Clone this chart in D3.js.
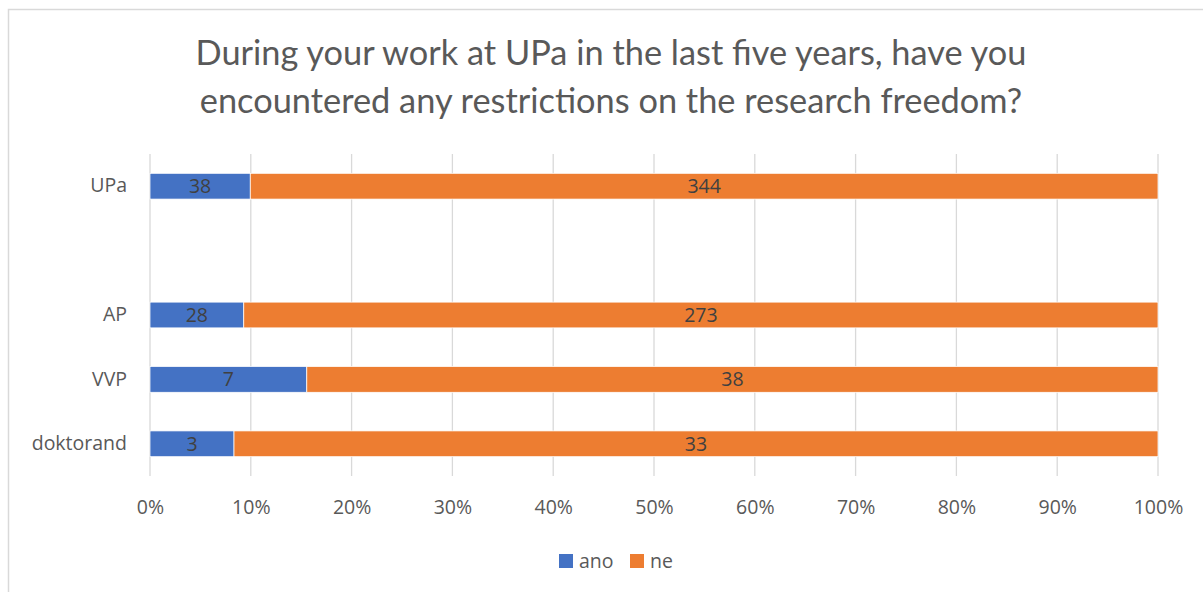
<!DOCTYPE html>
<html>
<head>
<meta charset="utf-8">
<script src="https://cdn.jsdelivr.net/npm/d3@7"></script>
<style>
  body { margin: 0; background: #fff; }
  text { font-family: "Open Sans", sans-serif; }
</style>
</head>
<body>
<div id="chart"></div>
<script>
// data
var categories = ["UPa", " ", "AP", "VVP", "doktorand"];
var ano = [38, null, 28, 7, 3];
var ne = [344, null, 273, 38, 33];
var seriesNames = ["ano", "ne"];
var seriesColors = ["#4472C4", "#ED7D31"];
var xTicks = [0, 0.1, 0.2, 0.3, 0.4, 0.5, 0.6, 0.7, 0.8, 0.9, 1];
var titleLines = ["During your work at UPa in the last five years, have you",
                  "encountered any restrictions on the research freedom?"];

var W = 1203, H = 592;
var margin = {top: 154, right: 45, bottom: 116, left: 150},
    width = W - margin.left - margin.right,
    height = H - margin.top - margin.bottom;
var fontStack = "'Open Sans', sans-serif";
var labelSize = "19.5px";

var root = d3.select("#chart").append("svg")
  .attr("width", W).attr("height", H);

// chart border
root.append("rect")
  .attr("x", 8.5).attr("y", 9.5)
  .attr("width", 1210).attr("height", 600)
  .attr("fill", "#fff").attr("stroke", "#D9D9D9").attr("stroke-width", 1.5);

// title
var title = root.append("g");
titleLines.forEach(function(t, i) {
  title.append("text")
    .attr("x", 611).attr("y", 65 + i * 48)
    .attr("text-anchor", "middle")
    .attr("fill", "#595959")
    .style("font-family", "Lato, sans-serif")
    .style("font-size", "32px")
    .text(t);
});
// fit the first line to the reference width
var w0 = title.select("text").node().getComputedTextLength();
var fs = 32 * 831 / w0;
title.selectAll("text").style("font-size", fs + "px");

var svg = root.append("g")
  .attr("transform", "translate(" + margin.left + "," + margin.top + ")");

var x = d3.scaleLinear().domain([0, 1]).range([0, width]);
var y = d3.scaleBand().domain(categories).range([0, height]).paddingInner(0.6).paddingOuter(0.3);

// gridlines
svg.append("g")
  .selectAll("line")
  .data(xTicks)
  .enter().append("line")
  .attr("x1", function(d) { return x(d); })
  .attr("x2", function(d) { return x(d); })
  .attr("y1", 0).attr("y2", height)
  .attr("stroke", "#D9D9D9").attr("stroke-width", 1.3);

// x axis labels
svg.append("g")
  .attr("transform", "translate(0," + height + ")")
  .call(d3.axisBottom(x).tickValues(xTicks).tickFormat(d3.format(".0%")).tickSize(0).tickPadding(24))
  .call(function(g) { g.select(".domain").remove(); })
  .selectAll("text")
  .attr("fill", "#595959")
  .style("font-size", labelSize)
  .style("font-family", fontStack);

// y axis labels
svg.append("g")
  .call(d3.axisLeft(y).tickSize(0).tickPadding(23))
  .call(function(g) { g.select(".domain").remove(); })
  .selectAll("text")
  .attr("fill", "#595959")
  .style("font-size", labelSize)
  .style("font-family", fontStack);

// stacked 100% bars
var rows = categories.map(function(c, i) {
  return {cat: c, ano: ano[i], ne: ne[i]};
}).filter(function(d) { return d.ano != null; });

var stack = d3.stack().keys(seriesNames).offset(d3.stackOffsetExpand);
var layers = stack(rows);

layers.forEach(function(layer, li) {
  var g = svg.append("g");
  g.selectAll("rect")
    .data(layer)
    .enter().append("rect")
    .attr("x", function(d) { return x(d[0]); })
    .attr("y", function(d) { return y(d.data.cat); })
    .attr("width", function(d) { return x(d[1]) - x(d[0]); })
    .attr("height", y.bandwidth())
    .attr("fill", seriesColors[li])
    .attr("stroke", "#fff").attr("stroke-width", 0.75);
  g.selectAll("text")
    .data(layer)
    .enter().append("text")
    .attr("x", function(d) { return (x(d[0]) + x(d[1])) / 2; })
    .attr("y", function(d) { return y(d.data.cat) + y.bandwidth() / 2; })
    .attr("dy", "0.36em")
    .attr("text-anchor", "middle")
    .attr("fill", "#404040")
    .style("font-size", labelSize)
    .text(function(d) { return d.data[layer.key]; });
});

// legend
var legend = root.append("g").attr("transform", "translate(559,554)");
var lx = [0, 71];
seriesNames.forEach(function(s, i) {
  legend.append("rect")
    .attr("x", lx[i]).attr("y", 0)
    .attr("width", 14).attr("height", 14)
    .attr("fill", seriesColors[i]);
  legend.append("text")
    .attr("x", lx[i] + 20).attr("y", 14)
    .attr("fill", "#595959")
    .style("font-size", labelSize)
    .text(s);
});
</script>
</body>
</html>
